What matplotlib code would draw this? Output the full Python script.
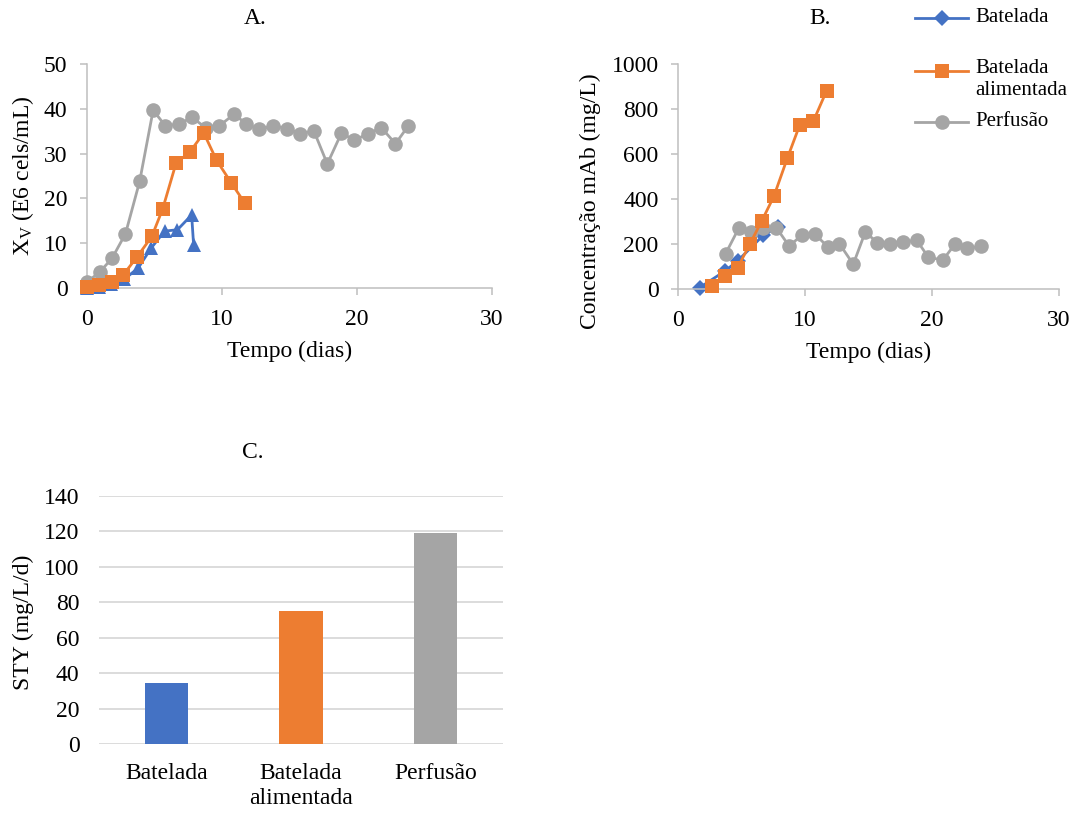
import matplotlib.pyplot as plt
from matplotlib.lines import Line2D

plt.rcParams['font.family'] = ['Liberation Serif', 'DejaVu Serif']
plt.rcParams['mathtext.fontset'] = 'custom'
plt.rcParams['mathtext.rm'] = 'Liberation Serif'
plt.rcParams['mathtext.it'] = 'Liberation Serif:italic'

BLUE = '#4472C4'
ORANGE = '#ED7D31'
GRAY = '#A5A5A5'
AXIS = '#BFBFBF'
FS = 17

# --- A. viable cell density (E6 cels/mL) ---
a_bat_t = [0, 0.9, 1.8, 2.75, 3.8, 4.75, 5.75, 6.7, 7.75, 7.9]
a_bat_x = [0.1, 0.2, 0.9, 1.9, 4.5, 8.9, 12.7, 13.0, 16.3, 9.5]

a_fed_t = [0, 0.9, 1.85, 2.7, 3.7, 4.8, 5.6, 6.6, 7.6, 8.65, 9.6, 10.7, 11.7]
a_fed_x = [0.3, 0.7, 1.3, 3.0, 6.9, 11.5, 17.6, 27.9, 30.3, 34.6, 28.5, 23.4, 18.9]

a_per_t = [0, 0.95, 1.85, 2.85, 3.9, 4.9, 5.8, 6.8, 7.8, 8.8, 9.8, 10.9, 11.8,
           12.75, 13.8, 14.8, 15.8, 16.8, 17.8, 18.85, 19.8, 20.8, 21.8, 22.85, 23.8]
a_per_x = [1.3, 3.6, 6.6, 12.1, 23.8, 39.7, 36.2, 36.6, 38.1, 35.7, 36.2, 38.8, 36.6,
           35.4, 36.2, 35.6, 34.4, 35.1, 27.7, 34.6, 33.0, 34.4, 35.8, 32.2, 36.2]

# --- B. mAb concentration (mg/L) ---
b_bat_t = [1.7, 3.7, 4.7, 6.7, 7.9]
b_bat_c = [6, 80, 125, 238, 277]

b_fed_t = [2.7, 3.7, 4.7, 5.65, 6.6, 7.55, 8.6, 9.6, 10.65, 11.7]
b_fed_c = [12, 56, 95, 199, 303, 412, 580, 731, 745, 881]

b_per_t = [3.75, 4.8, 5.75, 6.7, 7.75, 8.75, 9.75, 10.8, 11.8, 12.7, 13.8, 14.75,
           15.7, 16.7, 17.75, 18.8, 19.7, 20.85, 21.8, 22.75, 23.85]
b_per_c = [157, 272, 254, 269, 272, 191, 239, 243, 187, 202, 110, 254,
           205, 199, 209, 217, 142, 128, 199, 180, 190]

# --- C. space-time yield ---
c_labels = ['Batelada', 'Batelada\nalimentada', 'Perfusão']
c_sty = [34.5, 75.3, 119.2]

W, H = 1075, 813
fig = plt.figure(figsize=(W / 100, H / 100), dpi=100)


def px_axes(left, top, right, bottom):
    return fig.add_axes([left / W, 1 - bottom / H, (right - left) / W, (bottom - top) / H])


def style_line_axes(ax):
    for s in ['top', 'right']:
        ax.spines[s].set_visible(False)
    for s in ['left', 'bottom']:
        ax.spines[s].set_color(AXIS)
        ax.spines[s].set_linewidth(1.1)
    ax.tick_params(colors=AXIS, labelcolor='black', labelsize=FS, length=5, width=1.1)
    ax.tick_params(axis='y', pad=9)
    ax.tick_params(axis='x', pad=10)
    ax.set_xlim(0, 30)
    ax.set_xticks([0, 10, 20, 30])


line_kw = dict(lw=2, markeredgewidth=0)

# A
axA = px_axes(87, 64, 492, 288)
axA.plot(a_bat_t, a_bat_x, color=BLUE, marker='^', ms=10.5, zorder=2, clip_on=False, **line_kw)
axA.plot(a_per_t, a_per_x, color=GRAY, marker='o', ms=10.5, zorder=3, clip_on=False, **line_kw)
axA.plot(a_fed_t, a_fed_x, color=ORANGE, marker='s', ms=10, zorder=4, clip_on=False, **line_kw)
style_line_axes(axA)
axA.set_ylim(0, 50)
axA.set_yticks(range(0, 51, 10))
axA.set_xlabel('Tempo (dias)', fontsize=FS, va='center')
axA.xaxis.set_label_coords(0.5, -0.285)
axA.set_ylabel(r'X$_\mathrm{V}$ (E6 cels/mL)', fontsize=FS, va='center')
axA.yaxis.set_label_coords(-0.158, 0.5)
fig.text(255 / W, 1 - 18 / H, 'A.', fontsize=FS, ha='center', va='center')

# B
axB = px_axes(678, 64, 1059, 289)
axB.plot(b_bat_t, b_bat_c, color=BLUE, marker='D', ms=8.5, zorder=2, clip_on=False, **line_kw)
axB.plot(b_per_t, b_per_c, color=GRAY, marker='o', ms=10.5, zorder=3, clip_on=False, **line_kw)
axB.plot(b_fed_t, b_fed_c, color=ORANGE, marker='s', ms=10, zorder=4, clip_on=False, **line_kw)
style_line_axes(axB)
axB.set_ylim(0, 1000)
axB.set_yticks(range(0, 1001, 200))
axB.set_xlabel('Tempo (dias)', fontsize=FS, va='center')
axB.xaxis.set_label_coords(0.5, -0.28)
axB.set_ylabel('Concentração mAb (mg/L)', fontsize=FS, va='center')
axB.yaxis.set_label_coords(-0.23, 0.39)
fig.text(820 / W, 1 - 18 / H, 'B.', fontsize=FS, ha='center', va='center')

# legend drawn in figure space; handle sits on the first text line
leg_items = [(BLUE, 'D', 8.5, 'Batelada', 18),
             (ORANGE, 's', 10, 'Batelada\nalimentada', 71),
             (GRAY, 'o', 10.5, 'Perfusão', 122)]
for color, mk, ms, label, ypx in leg_items:
    y = 1 - ypx / H
    fig.add_artist(Line2D([915 / W, 941.5 / W, 968 / W], [y, y, y], transform=fig.transFigure,
                          color=color, lw=2, marker=mk, ms=ms, markevery=[1], markeredgewidth=0))
    if '\n' in label:
        fig.text(975 / W, 1 - (ypx - 12) / H, label, fontsize=15, ha='left', va='top',
                 linespacing=1.2)
    else:
        fig.text(975 / W, y, label, fontsize=15, ha='left', va='center')

# C
axC = px_axes(99, 496, 503, 744)
axC.bar(range(len(c_sty)), c_sty, width=0.32, color=[BLUE, ORANGE, GRAY], zorder=3)
axC.set_xlim(-0.5, 2.5)
axC.set_ylim(0, 140)
axC.set_yticks(range(0, 141, 20))
axC.set_xticks(range(len(c_labels)))
axC.set_xticklabels(c_labels)
axC.grid(axis='y', color='#D9D9D9', lw=1.3, zorder=0)
for s in axC.spines.values():
    s.set_visible(False)
axC.tick_params(length=0, labelsize=FS)
axC.tick_params(axis='y', pad=14)
axC.tick_params(axis='x', pad=14)
axC.set_ylabel('STY (mg/L/d)', fontsize=FS, va='center')
axC.yaxis.set_label_coords(-0.188, 0.49)
fig.text(253 / W, 1 - 452 / H, 'C.', fontsize=FS, ha='center', va='center')

fig.savefig('out.png', dpi=100)
